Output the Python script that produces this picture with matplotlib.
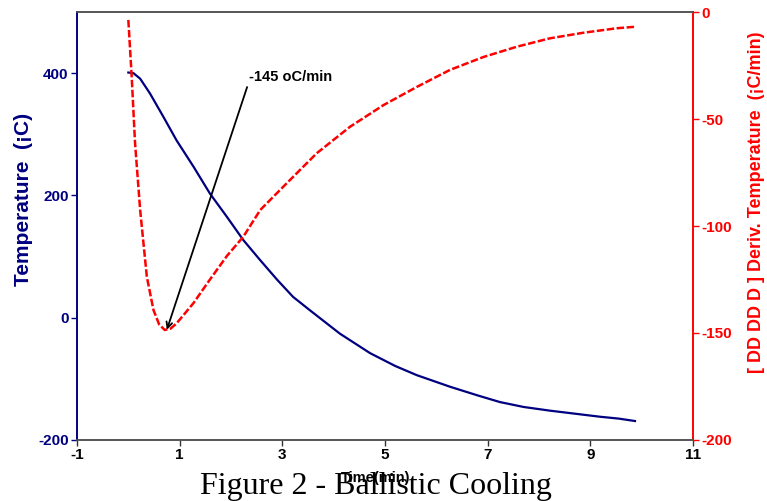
import matplotlib.pyplot as plt

plt.rcParams["axes.unicode_minus"] = False

# time (min) and sample temperature (deg C)
t_temp = [0.0, 0.1, 0.23, 0.42, 0.68, 0.94, 1.27, 1.59, 1.92, 2.24, 2.57, 2.9, 3.21, 3.54, 4.12,
          4.71, 5.2, 5.62, 6.27, 6.8, 7.24, 7.7, 8.21, 8.7, 9.19, 9.55, 9.87]
temp = [401, 400, 391, 367, 329, 290, 247, 203, 165, 127, 94, 62, 34, 12, -26,
        -58, -79, -94, -113, -127, -138, -146, -152, -157, -162, -165, -169]

# derivative of temperature (deg C/min)
t_deriv = [0.0, 0.065, 0.13, 0.23, 0.36, 0.49, 0.6, 0.71, 0.82, 0.94, 1.27, 1.59, 1.92, 2.24,
           2.57, 3.02, 3.67, 4.32, 4.97, 5.62, 6.27, 6.92, 7.57, 8.21, 8.86, 9.51, 9.87]
deriv = [-3.7, -30, -61, -92.5, -123.7, -139.3, -146, -148.6, -148, -145.5, -136, -125, -114, -105,
         -92.5, -81.6, -66, -53.6, -43.5, -35, -27, -21, -16.2, -12.3, -9.7, -7.6, -6.9]

navy = "#000080"
red = "#ff0000"
sans = ["Liberation Sans", "DejaVu Sans"]

fig = plt.figure(figsize=(7.67, 5.01), dpi=100)
ax = fig.add_axes([0.1004, 0.1218, 0.8031, 0.8542])
ax2 = ax.twinx()

ax.plot(t_temp, temp, color=navy, lw=1.6)
ax2.plot(t_deriv, deriv, color=red, lw=1.8, dashes=(3, 1))

ax.set_xlim(-1, 11)
ax.set_ylim(-200, 500)
ax2.set_ylim(-200, 0)
ax.set_xticks([-1, 1, 3, 5, 7, 9, 11])
ax.set_yticks([-200, 0, 200, 400])
ax2.set_yticks([-200, -150, -100, -50, 0])

fnt = {"family": sans, "weight": "bold", "size": 11}
for lab in ax.get_xticklabels():
    lab.set_fontproperties(fnt)
for lab in ax.get_yticklabels():
    lab.set_fontproperties(fnt)
    lab.set_color(navy)
for lab in ax2.get_yticklabels():
    lab.set_fontproperties(fnt)
    lab.set_color(red)

ax.tick_params(axis="x", length=4, width=1, colors="#333333", labelcolor="black", pad=2)
ax.tick_params(axis="y", length=4, width=1, colors=navy, pad=2)
ax2.tick_params(axis="y", length=4, width=1, colors=red, pad=2)

for a in (ax, ax2):
    a.spines["top"].set_color("#555555")
    a.spines["bottom"].set_color("#555555")
    a.spines["left"].set_color(navy)
    a.spines["right"].set_color(red)
    for s in a.spines.values():
        s.set_linewidth(1.2)

ax.set_ylabel("Temperature  (¡C)", color=navy, fontdict={"family": sans, "weight": "bold", "size": 15})
ax.yaxis.set_label_coords(-0.072, 0.563)
ax2.set_ylabel("[ DD DD D ] Deriv. Temperature  (¡C/min)", color=red,
               fontdict={"family": sans, "weight": "bold", "size": 13})
ax2.yaxis.set_label_coords(1.089, 0.555)

# minimum of the derivative curve
ax2.annotate("-145 oC/min", xy=(0.75, -148.5), xytext=(2.35, -30.5),
             fontsize=10.5, fontweight="bold", family=sans, va="center", ha="left",
             arrowprops=dict(arrowstyle="->", color="black", lw=1.3, shrinkA=0, shrinkB=0,
                             relpos=(0, 0.2)))

fig.text(0.490, 0.046, "Time(min)", ha="center", va="center", fontsize=10.5, fontweight="bold", family=sans)
fig.text(0.490, 0.028, "Figure 2 - Ballistic Cooling", ha="center", va="center", fontsize=23,
         family=["Liberation Serif", "DejaVu Serif"])

fig.savefig("out.png", dpi=100)
